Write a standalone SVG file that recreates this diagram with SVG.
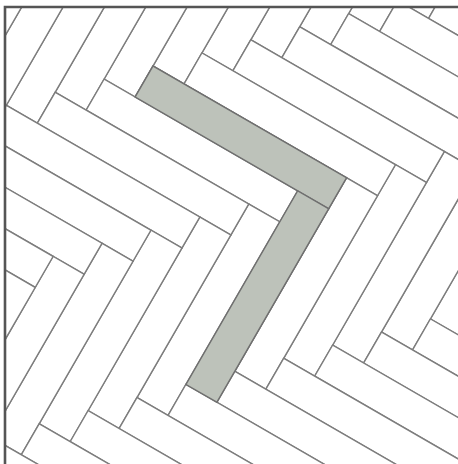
<svg xmlns="http://www.w3.org/2000/svg" xmlns:xlink="http://www.w3.org/1999/xlink" width="458" height="464" viewBox="0 0 458 464">
<style>
.t{fill:#ffffff;stroke:#7d7d7d;stroke-width:1.4}
.g{fill:#bdc2ba;stroke:#6f6f6f;stroke-width:1.4}
.frame{fill:none;stroke:#555555;stroke-width:2.6}
</style>
<defs>
<clipPath id="clip"><rect x="5" y="7" width="453" height="457"/></clipPath>
<g id="pair">
<rect class="t" x="0" y="0" width="223.5" height="35.8"/>
<rect class="t" x="187.7" y="35.8" width="35.8" height="223.5"/>
</g>
<g id="strip">
<use xlink:href="#pair" transform="translate(250.6,-250.6)"/>
<use xlink:href="#pair" transform="translate(214.8,-214.8)"/>
<use xlink:href="#pair" transform="translate(179,-179)"/>
<use xlink:href="#pair" transform="translate(143.2,-143.2)"/>
<use xlink:href="#pair" transform="translate(107.4,-107.4)"/>
<use xlink:href="#pair" transform="translate(71.6,-71.6)"/>
<use xlink:href="#pair" transform="translate(35.8,-35.8)"/>
<use xlink:href="#pair"/>
<use xlink:href="#pair" transform="translate(-35.8,35.8)"/>
<use xlink:href="#pair" transform="translate(-71.6,71.6)"/>
<use xlink:href="#pair" transform="translate(-107.4,107.4)"/>
<use xlink:href="#pair" transform="translate(-143.2,143.2)"/>
<use xlink:href="#pair" transform="translate(-179,179)"/>
<use xlink:href="#pair" transform="translate(-214.8,214.8)"/>
<use xlink:href="#pair" transform="translate(-250.6,250.6)"/>
</g>
</defs>
<rect x="0" y="0" width="458" height="464" fill="#ffffff"/>
<g id="floor" clip-path="url(#clip)">
<g transform="translate(153,66) rotate(30)">
<use xlink:href="#strip" transform="translate(-223.5,-223.5)"/>
<use xlink:href="#strip"/>
<use xlink:href="#strip" transform="translate(223.5,223.5)"/>
<g id="highlight">
<rect class="g" x="0" y="0" width="223.5" height="35.8"/>
<rect class="g" x="187.7" y="35.8" width="35.8" height="223.5"/>
</g>
</g>
</g>
<path class="frame" d="M5,464 V7 H458"/>
</svg>
